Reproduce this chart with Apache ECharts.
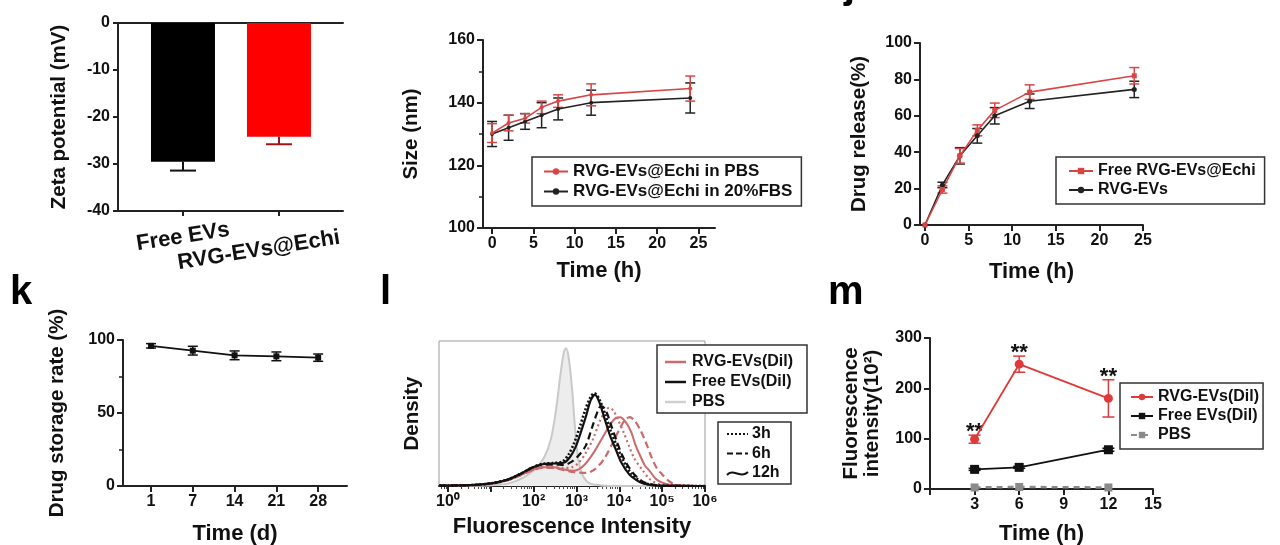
<!DOCTYPE html>
<html>
<head>
<meta charset="utf-8">
<script src="https://cdn.jsdelivr.net/npm/echarts@6/dist/echarts.min.js"></script>
<style>
  html, body { margin: 0; padding: 0; background: #fff; }
  #chart { width: 1280px; height: 545px; }
</style>
</head>
<body>
<div id="chart"></div>
<script>
// ---- panel h : zeta potential ----
const zetaGroups = ['Free EVs', 'RVG-EVs@Echi'];
const zetaMean = [-29.5, -24.2];
const zetaErr = [1.9, 1.6];

// ---- panel i : size over time ----
const sizeNames = ['RVG-EVs@Echi in PBS', 'RVG-EVs@Echi in 20%FBS'];
const sizeTime = [0, 2, 4, 6, 8, 12, 24];
const sizePbs = [130.3, 133.5, 135, 138.5, 140.5, 142.5, 144.5];
const sizePbsErr = [3, 2.5, 1.5, 2, 2, 3.5, 4];
const sizeFbs = [130, 132, 134, 136, 138, 140, 141.5];
const sizeFbsErr = [4, 4, 2.5, 4, 3.5, 4, 4.8];
const sizeTicks = [0, 5, 10, 15, 20, 25];

// ---- panel j : drug release ----
const relNames = ['Free RVG-EVs@Echi', 'RVG-EVs'];
const relTime = [0, 2, 4, 6, 8, 12, 24];
const relFree = [0, 19.5, 38, 52, 63, 73, 82];
const relFreeErr = [0, 2, 4, 3, 4, 4, 4.5];
const relEvs = [0, 22, 38, 49, 60, 68, 74.5];
const relEvsErr = [0, 1.5, 4.5, 4, 4.5, 4, 4.5];

// ---- panel k : drug storage ----
const storeDays = ['1', '7', '14', '21', '28'];
const storeRate = [96, 92.7, 89.5, 88.8, 87.9];
const storeErr = [1.5, 3, 3, 3, 2.5];

// ---- panel l : flow density curves, x = log10(intensity) ----
const decadeLabels = ['10⁰', '10¹', '10²', '10³', '10⁴', '10⁵', '10⁶'];
const decadeShown = [0, 2, 3, 4, 5, 6];
const flowNames = ['RVG-EVs(Dil)', 'Free EVs(Dil)', 'PBS'];
const timeNames = ['3h', '6h', '12h'];
const pbsCurve = [[-0.2, 0], [0.8, 0.2], [1.2, 0.8], [1.5, 2.5], [1.8, 6.5], [2.05, 12], [2.25, 20], [2.4, 32],
  [2.52, 52], [2.63, 78], [2.71, 93], [2.76, 95], [2.82, 88], [2.9, 66], [2.96, 42], [3.03, 21], [3.12, 9],
  [3.25, 3], [3.45, 0.8], [3.8, 0], [6, 0]];
const free3 = [[-0.2, 0.3], [0.5, 0.6], [1.0, 1.8], [1.4, 4.5], [1.7, 8.5], [1.95, 12.5], [2.2, 15.2], [2.45, 15.8],
  [2.68, 17], [2.82, 22], [2.95, 30], [3.08, 41], [3.2, 52], [3.32, 61], [3.42, 64], [3.53, 60], [3.66, 50],
  [3.8, 38], [3.95, 27], [4.1, 17], [4.28, 8.5], [4.45, 4], [4.6, 1.8], [4.9, 0.3], [6, 0]];
const free6 = [[-0.2, 0.3], [0.5, 0.6], [1.0, 1.8], [1.4, 4.5], [1.7, 8.5], [1.95, 12.3], [2.2, 14.6], [2.45, 14.8],
  [2.7, 14.5], [2.9, 17], [3.05, 21], [3.22, 28], [3.37, 41], [3.53, 54], [3.6, 55], [3.7, 51], [3.82, 41],
  [3.95, 30], [4.07, 21], [4.22, 13], [4.38, 7], [4.55, 3], [4.69, 1.5], [5.0, 0.2], [6, 0]];
const free12 = [[-0.2, 0.3], [0.5, 0.6], [1.0, 1.8], [1.4, 4.5], [1.7, 8.5], [1.95, 12.5], [2.2, 15], [2.45, 15.5],
  [2.7, 16], [2.85, 20], [2.98, 27], [3.1, 37], [3.22, 48], [3.33, 59], [3.43, 63], [3.53, 58], [3.65, 47],
  [3.78, 35], [3.92, 25], [4.05, 16], [4.23, 8], [4.4, 4], [4.54, 2], [4.85, 0.3], [6, 0]];
const rvg3 = [[-0.2, 0.2], [0.5, 0.5], [1.0, 1.5], [1.4, 4], [1.7, 7.5], [1.95, 11], [2.2, 13], [2.45, 13],
  [2.7, 12.5], [2.9, 13], [3.05, 16], [3.2, 22], [3.38, 32], [3.55, 45], [3.68, 52], [3.76, 54], [3.86, 52],
  [3.98, 45], [4.1, 37], [4.22, 28], [4.35, 19], [4.54, 11], [4.7, 5], [4.9, 1.5], [5.2, 0.2], [6, 0]];
const rvg6 = [[-0.2, 0.2], [0.5, 0.5], [1.0, 1.5], [1.4, 4], [1.7, 7.5], [1.95, 10.5], [2.2, 12.5], [2.45, 12.5],
  [2.7, 11], [2.95, 9.5], [3.22, 9], [3.45, 12], [3.65, 19], [3.85, 30], [4.0, 39], [4.12, 45], [4.24, 47.5],
  [4.36, 45], [4.5, 38], [4.62, 30], [4.75, 20], [4.88, 12], [5.0, 8], [5.15, 3.5], [5.31, 1], [5.6, 0.1], [6, 0]];
const rvg12 = [[-0.2, 0.2], [0.5, 0.5], [1.0, 1.5], [1.4, 4], [1.7, 7.5], [1.95, 11], [2.2, 13], [2.45, 13],
  [2.7, 11.5], [2.9, 10.5], [3.05, 11.5], [3.2, 15], [3.4, 23], [3.6, 33], [3.8, 43], [3.92, 47], [4.02, 47.5],
  [4.15, 44], [4.28, 37], [4.38, 28], [4.5, 20], [4.6, 14], [4.69, 11], [4.85, 5], [5.0, 2.3], [5.2, 0.7],
  [5.5, 0.1], [6, 0]];

// ---- panel m : fluorescence intensity ----
const flNames = ['RVG-EVs(Dil)', 'Free EVs(Dil)', 'PBS'];
const flTime = [3, 6, 12];
const flRvg = [99, 248, 180];
const flRvgErr = [8, 16, 37];
const flFree = [39, 43, 78];
const flFreeErr = [2, 2, 3];
const flPbs = [3, 4, 3];
const flSig = ['**', '**', '**'];

const panelLetters = ['j', 'k', 'l', 'm'];

// ---- styles ----
const FONT = '"Liberation Sans", Arial, Helvetica, sans-serif';
const AX = '#222';
const TXT = '#111';
const RED = '#d94545';
const RED_M = '#e0393a';
const RED_L = '#c96a6c';
const zetaColors = ['#000000', '#ff0000'];
const zetaErrColors = ['#111111', '#a01515'];

const labelStyle = { color: TXT, fontSize: 16, fontWeight: 'bold', fontFamily: FONT, margin: 8 };
const xName = { color: TXT, fontSize: 22, fontWeight: 'bold', fontFamily: FONT };
const yName = { color: TXT, fontSize: 20.5, fontWeight: 'bold', fontFamily: FONT };

function axLine() { return { show: true, onZero: false, lineStyle: { color: AX, width: 2 } }; }
function axTick(len, vals) {
  const t = { show: true, length: len || 5, lineStyle: { color: AX, width: 2 } };
  if (vals) t.customValues = vals;
  return t;
}
const noSplit = { show: false };

function toPairs(xs, ys) { return xs.map((x, i) => [x, ys[i]]); }

function errorBars(o) {
  return {
    type: 'custom',
    xAxisIndex: o.xi, yAxisIndex: o.yi,
    silent: true, z: o.z || 3,
    data: o.xs.map((x, i) => [x, o.means[i] - o.errs[i], o.oneSided ? o.means[i] : o.means[i] + o.errs[i], i]),
    renderItem: function (params, api) {
      const x = api.value(0);
      const lo = api.coord([x, api.value(1)]);
      const hi = api.coord([x, api.value(2)]);
      const col = Array.isArray(o.color) ? o.color[api.value(3)] : o.color;
      const style = { stroke: col, lineWidth: o.width || 1.5 };
      const c = o.cap;
      const kids = [];
      if (Math.abs(lo[1] - hi[1]) > 0.5) {
        kids.push({ type: 'line', shape: { x1: lo[0], y1: lo[1], x2: hi[0], y2: hi[1] }, style: style });
        kids.push({ type: 'line', shape: { x1: lo[0] - c, y1: lo[1], x2: lo[0] + c, y2: lo[1] }, style: style });
        if (!o.oneSided) {
          kids.push({ type: 'line', shape: { x1: hi[0] - c, y1: hi[1], x2: hi[0] + c, y2: hi[1] }, style: style });
        }
      }
      if (o.marks) {
        kids.push({
          type: 'text', x: hi[0], y: hi[1] - 3,
          style: { text: o.marks[api.value(3)], fill: TXT, fontSize: 22, fontWeight: 'bold', fontFamily: FONT,
            align: 'center', verticalAlign: 'middle' }
        });
      }
      return { type: 'group', children: kids };
    }
  };
}

function lineSeries(name, xi, yi, data, color, symbol, size, extra) {
  return Object.assign({
    name: name, type: 'line', xAxisIndex: xi, yAxisIndex: yi, data: data,
    symbol: symbol, symbolSize: size, showAllSymbol: true,
    itemStyle: { color: color }, lineStyle: { color: color, width: 1.6 },
    emphasis: { disabled: true }, z: 4
  }, extra || {});
}

function flowSeries(data, color, type, width) {
  return {
    type: 'line', xAxisIndex: 5, yAxisIndex: 4, data: data, smooth: 0.3,
    showSymbol: false, silent: true, z: 4,
    lineStyle: { color: color, width: width || 2.2, type: type }
  };
}

function legendBox(names, left, top, padLeft, padRight, fs) {
  return {
    data: names, left: left, top: top, orient: 'vertical',
    borderColor: '#333', borderWidth: 1.5, backgroundColor: '#fff',
    padding: [6, padRight, 6, padLeft], itemGap: 3, itemWidth: 24, itemHeight: 8,
    selectedMode: false,
    textStyle: { color: TXT, fontSize: fs || 16, fontWeight: 'bold', fontFamily: FONT }
  };
}

// minor log ticks for panel l
const minorExps = [];
for (let n = -1; n < 6; n++) {
  for (let k = 2; k <= 9; k++) {
    const e = n + Math.log10(k);
    if (e > -0.21) minorExps.push(e);
  }
}

const grids = [
  { left: 118, top: 23, width: 225, height: 188 },   // h
  { left: 483, top: 40, width: 232, height: 188 },   // i
  { left: 920, top: 43, width: 223, height: 182 },   // j
  { left: 123, top: 340, width: 224, height: 146 },  // k
  { left: 439, top: 341, width: 266, height: 145, show: true, borderColor: '#9a9a9a', borderWidth: 1 }, // l
  { left: 930, top: 338, width: 223, height: 151 }   // m
].map(g => Object.assign({ outerBoundsMode: 'none', containLabel: false }, g));

const xAxes = [
  { // 0: h bottom
    gridIndex: 0, type: 'value', min: -0.677, max: 1.667, position: 'bottom',
    axisLine: axLine(), axisTick: axTick(5, zetaGroups.map((_, i) => i)), splitLine: noSplit,
    axisLabel: {
      customValues: zetaGroups.map((_, i) => i), rotate: 9, align: 'center', verticalAlign: 'middle', margin: 26,
      color: TXT, fontFamily: FONT,
      formatter: v => (v === 0 ? '{a|' : '{b|') + zetaGroups[v] + '}',
      rich: {
        a: { fontSize: 22, fontWeight: 'bold', fontFamily: FONT, color: TXT },
        b: { fontSize: 22, fontWeight: 'bold', fontFamily: FONT, color: TXT, padding: [20, 44, 0, 0] }
      }
    }
  },
  { // 1: h top line at 0
    gridIndex: 0, type: 'value', min: -0.677, max: 1.667, position: 'top',
    axisLine: axLine(), axisTick: { show: false }, axisLabel: { show: false }, splitLine: noSplit
  },
  { // 2: i
    gridIndex: 1, type: 'value', min: -1.1, max: 27,
    axisLine: axLine(), axisTick: axTick(6, sizeTicks), splitLine: noSplit,
    axisLabel: Object.assign({ customValues: sizeTicks }, labelStyle),
    name: 'Time (h)', nameLocation: 'middle', nameGap: 32, nameTextStyle: xName
  },
  { // 3: j
    gridIndex: 2, type: 'value', min: -0.57, max: 25,
    axisLine: axLine(), axisTick: axTick(6, sizeTicks), splitLine: noSplit,
    axisLabel: Object.assign({ customValues: sizeTicks }, labelStyle),
    name: 'Time (h)', nameLocation: 'middle', nameGap: 36, nameTextStyle: xName
  },
  { // 4: k
    gridIndex: 3, type: 'value', min: -0.67, max: 4.69,
    axisLine: axLine(), axisTick: axTick(6, storeDays.map((_, i) => i)), splitLine: noSplit,
    axisLabel: Object.assign({ customValues: storeDays.map((_, i) => i), formatter: v => storeDays[v] }, labelStyle),
    name: 'Time (d)', nameLocation: 'middle', nameGap: 37, nameTextStyle: xName
  },
  { // 5: l majors
    gridIndex: 4, type: 'value', min: -0.21, max: 6, position: 'bottom',
    axisLine: axLine(), axisTick: axTick(6, decadeLabels.map((_, i) => i)), splitLine: noSplit,
    axisLabel: Object.assign({ customValues: decadeShown, formatter: v => decadeLabels[v] }, labelStyle),
    name: 'Fluorescence Intensity', nameLocation: 'middle', nameGap: 30, nameTextStyle: xName
  },
  { // 6: l minor ticks
    gridIndex: 4, type: 'value', min: -0.21, max: 6, position: 'bottom',
    axisLine: { show: false }, splitLine: noSplit, axisLabel: { show: false },
    axisTick: { show: true, length: 3, customValues: minorExps, lineStyle: { color: '#444', width: 1 } }
  },
  { // 7: m
    gridIndex: 5, type: 'value', min: 0, max: 15, interval: 3,
    axisLine: axLine(), axisTick: axTick(6), splitLine: noSplit,
    axisLabel: Object.assign({ formatter: v => (v === 0 ? '' : String(v)) }, labelStyle),
    name: 'Time (h)', nameLocation: 'middle', nameGap: 34, nameTextStyle: xName
  }
].map(a => Object.assign({ nameMoveOverlap: false }, a));

const yAxes = [
  { gridIndex: 0, type: 'value', min: -40, max: 0, interval: 10,
    axisLine: axLine(), axisTick: axTick(5), splitLine: noSplit, axisLabel: labelStyle,
    name: 'Zeta potential (mV)', nameLocation: 'middle', nameGap: 48, nameTextStyle: yName },
  { gridIndex: 1, type: 'value', min: 100, max: 160, interval: 20,
    axisLine: axLine(), axisTick: axTick(6), splitLine: noSplit, axisLabel: labelStyle,
    minorTick: { show: true, splitNumber: 2, length: 4, lineStyle: { color: AX, width: 1.5 } },
    name: 'Size (nm)', nameLocation: 'middle', nameGap: 61, nameTextStyle: yName },
  { gridIndex: 2, type: 'value', min: 0, max: 100, interval: 20,
    axisLine: axLine(), axisTick: axTick(6), splitLine: noSplit, axisLabel: labelStyle,
    name: 'Drug release(%)', nameLocation: 'middle', nameGap: 50, nameTextStyle: yName },
  { gridIndex: 3, type: 'value', min: 0, max: 100, interval: 50,
    axisLine: axLine(), axisTick: axTick(6), splitLine: noSplit, axisLabel: labelStyle,
    minorTick: { show: true, splitNumber: 2, length: 4, lineStyle: { color: AX, width: 1.5 } },
    name: 'Drug storage rate (%)', nameLocation: 'middle', nameGap: 55, nameTextStyle: yName },
  { gridIndex: 4, type: 'value', min: 0, max: 100,
    axisLine: { show: false }, axisTick: { show: false }, splitLine: noSplit, axisLabel: { show: false },
    name: 'Density', nameLocation: 'middle', nameGap: 16, nameTextStyle: yName },
  { gridIndex: 5, type: 'value', min: 0, max: 300, interval: 100,
    axisLine: axLine(), axisTick: axTick(6), splitLine: noSplit, axisLabel: labelStyle,
    name: 'Fluorescence\nintensity(10²)', nameLocation: 'middle', nameGap: 47,
    nameTextStyle: Object.assign({ lineHeight: 21 }, yName) }
].map(a => Object.assign({ nameMoveOverlap: false }, a));

const series = [
  // h
  {
    type: 'bar', xAxisIndex: 0, yAxisIndex: 0, barWidth: 64, silent: true, z: 2,
    data: zetaMean.map((v, i) => ({ value: [i, v], itemStyle: { color: zetaColors[i] } }))
  },
  errorBars({ xi: 0, yi: 0, xs: zetaGroups.map((_, i) => i), means: zetaMean, errs: zetaErr,
    color: zetaErrColors, cap: 13, width: 2, oneSided: true }),

  // i
  errorBars({ xi: 2, yi: 1, xs: sizeTime, means: sizeFbs, errs: sizeFbsErr, color: '#222', cap: 5 }),
  errorBars({ xi: 2, yi: 1, xs: sizeTime, means: sizePbs, errs: sizePbsErr, color: RED, cap: 5 }),
  lineSeries(sizeNames[1], 2, 1, toPairs(sizeTime, sizeFbs), '#222', 'circle', 4),
  lineSeries(sizeNames[0], 2, 1, toPairs(sizeTime, sizePbs), RED, 'circle', 4),

  // j
  errorBars({ xi: 3, yi: 2, xs: relTime, means: relEvs, errs: relEvsErr, color: '#222', cap: 5 }),
  errorBars({ xi: 3, yi: 2, xs: relTime, means: relFree, errs: relFreeErr, color: RED, cap: 5 }),
  lineSeries(relNames[1], 3, 2, toPairs(relTime, relEvs), '#222', 'circle', 5),
  lineSeries(relNames[0], 3, 2, toPairs(relTime, relFree), RED, 'rect', 5),

  // k
  errorBars({ xi: 4, yi: 3, xs: storeDays.map((_, i) => i), means: storeRate, errs: storeErr, color: '#111', cap: 5 }),
  lineSeries('storage', 4, 3, storeRate.map((v, i) => [i, v]), '#111', 'rect', 6),

  // l
  {
    type: 'line', xAxisIndex: 5, yAxisIndex: 4, data: pbsCurve, smooth: 0.3, showSymbol: false, silent: true, z: 2,
    lineStyle: { color: '#c9c9c9', width: 2 }, areaStyle: { color: '#ededed', opacity: 1 }
  },
  flowSeries(rvg3, RED_L, [2, 3], 2.2),
  flowSeries(rvg6, RED_L, [7, 4], 2.2),
  flowSeries(rvg12, RED_L, 'solid', 2),
  flowSeries(free6, '#111', [7, 4], 2.2),
  flowSeries(free3, '#111', [2, 2], 2.6),
  flowSeries(free12, '#111', 'solid', 2.2),

  // m
  lineSeries(flNames[2], 7, 5, toPairs(flTime, flPbs), '#8a8a8a', 'rect', 8,
    { lineStyle: { color: '#8a8a8a', width: 2.5, type: [6, 5] } }),
  errorBars({ xi: 7, yi: 5, xs: flTime, means: flFree, errs: flFreeErr, color: '#111', cap: 6 }),
  lineSeries(flNames[1], 7, 5, toPairs(flTime, flFree), '#111', 'rect', 9, { lineStyle: { color: '#111', width: 1.8 } }),
  errorBars({ xi: 7, yi: 5, xs: flTime, means: flRvg, errs: flRvgErr, color: RED_M, cap: 6, marks: flSig }),
  lineSeries(flNames[0], 7, 5, toPairs(flTime, flRvg), RED_M, 'circle', 9, { lineStyle: { color: RED_M, width: 1.8 } })
];

// legend for panel l drawn as graphics (colour key + line-style key)
const legL = [];
const flowColors = [RED_L, '#111', '#d0d0d0'];
legL.push({ type: 'rect', shape: { x: 657, y: 345, width: 150, height: 68 },
  style: { fill: '#fff', stroke: '#333', lineWidth: 1.5 }, z: 100 });
flowNames.forEach((n, i) => {
  const y = 362 + i * 20;
  legL.push({ type: 'line', shape: { x1: 665, y1: y, x2: 686, y2: y },
    style: { stroke: flowColors[i], lineWidth: 2.5 }, z: 101 });
  legL.push({ type: 'text', x: 692, y: y,
    style: { text: n, fill: TXT, fontSize: 16, fontWeight: 'bold', fontFamily: FONT, verticalAlign: 'middle' }, z: 101 });
});
legL.push({ type: 'rect', shape: { x: 718, y: 422, width: 73, height: 62 },
  style: { fill: '#fff', stroke: '#333', lineWidth: 1.5 }, z: 100 });
const keyDash = [[2, 2], [6, 3], null];
timeNames.forEach((n, i) => {
  const y = 434 + i * 19.5;
  if (keyDash[i]) {
    legL.push({ type: 'line', shape: { x1: 727, y1: y, x2: 748, y2: y },
      style: { stroke: '#111', lineWidth: 2, lineDash: keyDash[i] }, z: 101 });
  } else {
    legL.push({ type: 'bezierCurve', shape: { x1: 727, y1: y + 2, cpx1: 733, cpy1: y - 5, cpx2: 741, cpy2: y + 6, x2: 748, y2: y - 1 },
      style: { stroke: '#111', lineWidth: 2, fill: null }, z: 101 });
  }
  legL.push({ type: 'text', x: 752, y: y,
    style: { text: n, fill: TXT, fontSize: 16, fontWeight: 'bold', fontFamily: FONT, verticalAlign: 'middle' }, z: 101 });
});

const letterPos = [[844, -13], [10, 293], [380, 293], [828, 293]];
const letters = panelLetters.map((t, i) => ({
  type: 'text', x: letterPos[i][0], y: letterPos[i][1], z: 100,
  style: { text: t, fill: '#000', fontSize: 40, fontWeight: 'bold', fontFamily: FONT, verticalAlign: 'middle' }
}));

const chart = echarts.init(document.getElementById('chart'), null, { renderer: 'canvas' });
chart.setOption({
  animation: false,
  backgroundColor: '#fff',
  textStyle: { fontFamily: FONT },
  grid: grids,
  xAxis: xAxes,
  yAxis: yAxes,
  legend: [
    legendBox(sizeNames, 532, 157, 11, 9, 17),
    legendBox(relNames, 1056, 157, 12, 9, 16),
    Object.assign(legendBox(flNames, 1120, 383, 10, 4, 16), { itemWidth: 22 })
  ],
  graphic: letters.concat(legL),
  series: series
});
</script>
</body>
</html>
